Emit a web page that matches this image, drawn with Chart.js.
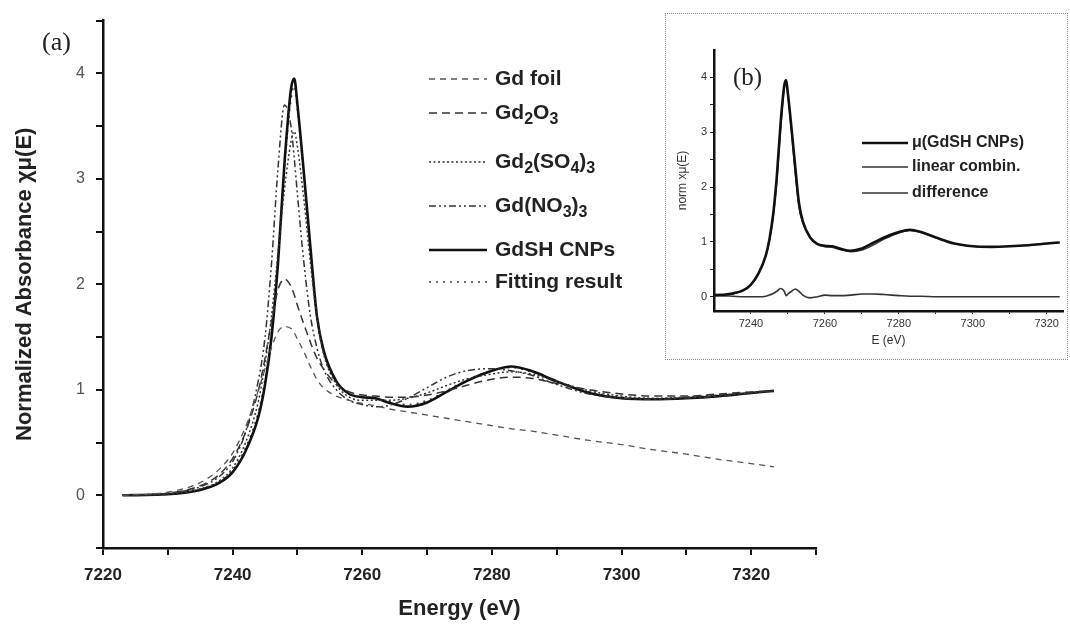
<!DOCTYPE html>
<html>
<head>
<meta charset="utf-8">
<script src="https://cdn.jsdelivr.net/npm/chart.js@4.4.0/dist/chart.umd.min.js"></script>
<style>
  body { margin: 0; background: #fff; }
  #wrap { position: relative; width: 1070px; height: 630px; }
  canvas { display: block; }
  #inset { position: absolute; left: 665px; top: 13px; width: 401px; height: 345px; border: 1px dotted #8a8a8a; background: #fff; }
</style>
</head>
<body>
<div id="wrap">
  <canvas id="mainChart" width="1070" height="630"></canvas>
  <div id="inset"><canvas id="insetChart" width="401" height="345"></canvas></div>
</div>
<script>
// energy grid (eV) shared by every curve
var energy = [7223, 7230, 7235, 7238, 7240, 7242, 7244, 7245, 7246, 7247, 7248, 7249, 7249.5, 7250, 7251, 7252, 7253, 7254, 7256, 7258, 7260, 7262, 7264, 7267, 7270, 7273, 7276, 7280, 7283, 7286, 7290, 7295, 7300, 7305, 7310, 7315, 7320, 7323.5];

// (a) reference spectra
var gdFoil   = [0, 0.03, 0.12, 0.25, 0.40, 0.65, 1.00, 1.20, 1.40, 1.55, 1.60, 1.58, 1.54, 1.48, 1.36, 1.22, 1.10, 1.02, 0.94, 0.90, 0.87, 0.85, 0.82, 0.79, 0.76, 0.73, 0.70, 0.66, 0.63, 0.61, 0.57, 0.52, 0.48, 0.43, 0.39, 0.34, 0.30, 0.27];
var gd2o3    = [0, 0.02, 0.09, 0.20, 0.35, 0.60, 1.00, 1.30, 1.65, 1.95, 2.05, 1.98, 1.90, 1.80, 1.62, 1.45, 1.30, 1.20, 1.05, 0.98, 0.95, 0.94, 0.93, 0.93, 0.95, 0.99, 1.04, 1.10, 1.12, 1.11, 1.06, 1.00, 0.96, 0.94, 0.94, 0.96, 0.98, 0.99];
var gd2so43  = [0, 0.01, 0.06, 0.14, 0.26, 0.50, 0.90, 1.25, 1.70, 2.30, 2.90, 3.35, 3.45, 3.30, 2.80, 2.20, 1.70, 1.35, 1.05, 0.93, 0.90, 0.90, 0.90, 0.92, 0.97, 1.04, 1.10, 1.15, 1.17, 1.15, 1.08, 0.99, 0.94, 0.92, 0.93, 0.95, 0.97, 0.99];
var gdno33   = [0, 0.02, 0.08, 0.18, 0.32, 0.60, 1.10, 1.50, 2.20, 3.10, 3.70, 3.50, 3.20, 2.85, 2.20, 1.70, 1.40, 1.20, 1.00, 0.90, 0.86, 0.84, 0.85, 0.92, 1.02, 1.12, 1.18, 1.20, 1.18, 1.14, 1.05, 0.96, 0.92, 0.91, 0.92, 0.94, 0.97, 0.99];
var gdshCnps = [0, 0.01, 0.05, 0.12, 0.22, 0.42, 0.75, 1.05, 1.50, 2.20, 3.15, 3.85, 3.95, 3.70, 3.05, 2.35, 1.70, 1.38, 1.08, 0.96, 0.93, 0.92, 0.88, 0.84, 0.88, 0.98, 1.08, 1.18, 1.22, 1.18, 1.08, 0.97, 0.92, 0.91, 0.92, 0.94, 0.97, 0.99];
var fitResult = [0, 0.01, 0.06, 0.13, 0.24, 0.45, 0.80, 1.10, 1.55, 2.25, 3.10, 3.75, 3.88, 3.65, 3.00, 2.30, 1.68, 1.36, 1.07, 0.96, 0.93, 0.92, 0.89, 0.86, 0.90, 0.99, 1.09, 1.18, 1.21, 1.17, 1.08, 0.98, 0.93, 0.91, 0.92, 0.94, 0.97, 0.99];

// (b) inset
var insetMu      = [0.03, 0.03, 0.06, 0.12, 0.22, 0.42, 0.75, 1.05, 1.50, 2.20, 3.15, 3.85, 3.95, 3.70, 3.05, 2.35, 1.70, 1.38, 1.08, 0.96, 0.93, 0.92, 0.88, 0.84, 0.88, 0.98, 1.08, 1.18, 1.22, 1.18, 1.08, 0.97, 0.92, 0.91, 0.92, 0.94, 0.97, 0.99];
var insetLinComb = [0.03, 0.03, 0.05, 0.12, 0.22, 0.42, 0.74, 1.02, 1.44, 2.10, 3.02, 3.78, 3.92, 3.66, 2.96, 2.22, 1.62, 1.35, 1.09, 0.96, 0.91, 0.90, 0.86, 0.82, 0.85, 0.94, 1.05, 1.16, 1.21, 1.17, 1.08, 0.97, 0.92, 0.91, 0.92, 0.94, 0.97, 0.99];
var insetDiff    = [0.02, 0.02, 0.01, 0.00, 0.00, 0.00, 0.01, 0.03, 0.06, 0.10, 0.15, 0.10, 0.02, 0.05, 0.10, 0.14, 0.10, 0.03, -0.02, 0.00, 0.03, 0.02, 0.02, 0.03, 0.05, 0.05, 0.04, 0.02, 0.01, 0.01, 0.00, 0.00, 0.00, 0.00, 0.00, 0.00, 0.00, 0.00];

// tick values
var mainXTicks = [7220, 7230, 7240, 7250, 7260, 7270, 7280, 7290, 7300, 7310, 7320, 7330];
var mainYTicks = [-0.5, 0, 0.5, 1, 1.5, 2, 2.5, 3, 3.5, 4, 4.5];
var insetXTicks = [7240, 7250, 7260, 7270, 7280, 7290, 7300, 7310, 7320];
var insetYTicks = [0, 0.5, 1, 1.5, 2, 2.5, 3, 3.5, 4];

function pts(ys) {
  return energy.map(function (e, i) { return { x: e, y: ys[i] }; });
}

function line(label, ys, color, width, dash) {
  return {
    label: label, data: pts(ys), borderColor: color, borderWidth: width,
    borderDash: dash, pointRadius: 0, cubicInterpolationMode: "monotone", fill: false
  };
}

// text with "_x" meaning a subscript character
function drawLabel(ctx, text, x, y, size, family) {
  var i = 0;
  while (i < text.length) {
    var ch = text[i], sub = false;
    if (ch === "_") { sub = true; ch = text[i + 1]; i++; }
    ctx.font = "bold " + (sub ? Math.round(size * 0.78) : size) + "px " + family;
    ctx.fillText(ch, x, sub ? y + size * 0.32 : y);
    x += ctx.measureText(ch).width;
    i++;
  }
}

var keyPlugin = {
  id: "sideKey",
  afterDraw: function (chart, args, opts) {
    var ctx = chart.ctx;
    ctx.save();
    ctx.textBaseline = "middle";
    ctx.fillStyle = "#222";
    chart.data.datasets.forEach(function (ds, i) {
      var y = opts.rows[i];
      ctx.beginPath();
      ctx.setLineDash(ds.borderDash || []);
      ctx.lineWidth = ds.borderWidth;
      ctx.strokeStyle = ds.borderColor;
      ctx.moveTo(opts.x, y);
      ctx.lineTo(opts.x + opts.len, y);
      ctx.stroke();
      ctx.setLineDash([]);
      drawLabel(ctx, ds.label, opts.x + opts.len + opts.gap, y, opts.size, opts.family);
    });
    ctx.font = opts.tag.font;
    ctx.fillText(opts.tag.text, opts.tag.x, opts.tag.y);
    ctx.restore();
  }
};

var sans = "'Liberation Sans', Arial, sans-serif";

new Chart(document.getElementById("mainChart"), {
  type: "line",
  data: {
    datasets: [
      line("Gd foil", gdFoil, "#555", 1.3, [6, 5]),
      line("Gd_2O_3", gd2o3, "#333", 1.5, [8, 5]),
      line("Gd_2(SO_4)_3", gd2so43, "#333", 1.5, [2, 2.5]),
      line("Gd(NO_3)_3", gdno33, "#333", 1.5, [7, 3, 2, 3, 2, 3]),
      line("GdSH CNPs", gdshCnps, "#111", 2.6, []),
      line("Fitting result", fitResult, "#444", 1.6, [2, 5])
    ]
  },
  plugins: [keyPlugin],
  options: {
    responsive: false,
    animation: false,
    layout: { padding: { left: 0, top: 17, right: 254, bottom: 0 } },
    scales: {
      x: {
        type: "linear",
        min: 7220,
        max: 7330,
        afterBuildTicks: function (s) { s.ticks = mainXTicks.map(function (v) { return { value: v }; }); },
        afterFit: function (s) { s.height = 82; },
        border: { display: true, color: "#111", width: 2.5 },
        grid: { drawOnChartArea: false, tickLength: 7, color: "#111", lineWidth: 2 },
        ticks: {
          autoSkip: false, maxRotation: 0, padding: 10, color: "#222",
          font: { family: sans, size: 17, weight: "bold" },
          callback: function (v) { return v % 20 === 0 ? v : ""; }
        },
        title: { display: true, text: "Energy (eV)", color: "#222", font: { family: sans, size: 22, weight: "bold" }, padding: { top: 0, bottom: 8 } }
      },
      y: {
        min: -0.5,
        max: 4.5,
        afterBuildTicks: function (s) { s.ticks = mainYTicks.map(function (v) { return { value: v }; }); },
        afterFit: function (s) { s.width = 103; },
        border: { display: true, color: "#111", width: 2.5 },
        grid: { drawOnChartArea: false, tickLength: 7, color: "#111", lineWidth: 2 },
        ticks: {
          autoSkip: false, padding: 11, color: "#555",
          font: { family: sans, size: 16 },
          callback: function (v) { return Number.isInteger(v) ? v : ""; }
        },
        title: { display: true, text: "Normalized Absorbance χμ(E)", color: "#222", font: { family: sans, size: 22, weight: "bold" }, padding: { top: 12, bottom: 0 } }
      }
    },
    plugins: {
      legend: { display: false },
      tooltip: { enabled: false },
      sideKey: {
        x: 429, len: 58, gap: 8, size: 21, family: sans,
        rows: [79, 113, 162, 206, 250, 282],
        tag: { text: "(a)", x: 42, y: 43, font: "26px 'Liberation Serif', serif" }
      }
    }
  }
});

new Chart(document.getElementById("insetChart"), {
  type: "line",
  data: {
    datasets: [
      line("μ(GdSH CNPs)", insetMu, "#111", 2.6, []),
      line("linear combin.", insetLinComb, "#333", 1.3, []),
      line("difference", insetDiff, "#333", 1.6, [])
    ]
  },
  plugins: [keyPlugin],
  options: {
    responsive: false,
    animation: false,
    layout: { padding: { left: 0, top: 36, right: 4, bottom: 0 } },
    scales: {
      x: {
        type: "linear",
        min: 7230,
        max: 7324.4,
        afterBuildTicks: function (s) { s.ticks = insetXTicks.map(function (v) { return { value: v }; }); },
        afterFit: function (s) { s.height = 48; },
        border: { display: true, color: "#111", width: 2.5 },
        grid: { drawOnChartArea: false, tickLength: 3, color: "#222", lineWidth: 1 },
        ticks: {
          autoSkip: false, maxRotation: 0, padding: 3, color: "#333",
          font: { family: sans, size: 11 },
          callback: function (v) { return v % 20 === 0 ? v : ""; }
        },
        title: { display: true, text: "E (eV)", color: "#333", font: { family: sans, size: 12 }, padding: { top: 0, bottom: 11 } }
      },
      y: {
        min: -0.26,
        max: 4.5,
        afterBuildTicks: function (s) { s.ticks = insetYTicks.map(function (v) { return { value: v }; }); },
        afterFit: function (s) { s.width = 48; },
        border: { display: true, color: "#111", width: 2.5 },
        grid: { drawOnChartArea: false, tickLength: 4, color: "#222", lineWidth: 1 },
        ticks: {
          autoSkip: false, padding: 3, color: "#333",
          font: { family: sans, size: 11 },
          callback: function (v) { return Number.isInteger(v) ? v : ""; }
        },
        title: { display: true, text: "norm xμ(E)", color: "#333", font: { family: sans, size: 12 }, padding: { top: 9, bottom: 0 } }
      }
    },
    plugins: {
      legend: { display: false },
      tooltip: { enabled: false },
      sideKey: {
        x: 196, len: 46, gap: 4, size: 16, family: sans,
        rows: [129, 153, 179],
        tag: { text: "(b)", x: 67, y: 64, font: "25px 'Liberation Serif', serif" }
      }
    }
  }
});
</script>
</body>
</html>
